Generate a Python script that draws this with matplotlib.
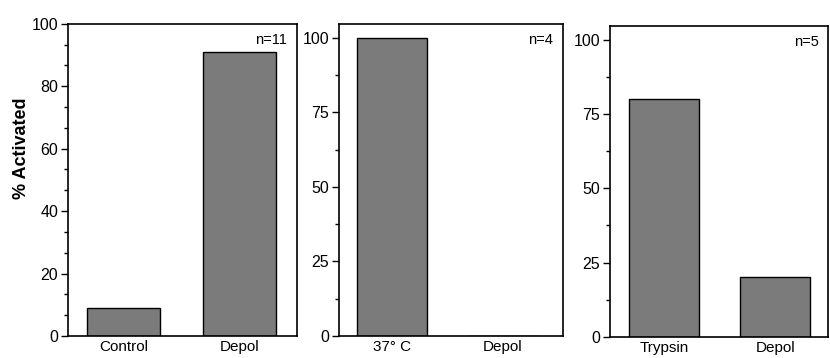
import matplotlib
matplotlib.use("Agg")
import matplotlib.pyplot as plt
from matplotlib.ticker import MultipleLocator

plt.rcParams['font.family'] = ['Liberation Sans', 'DejaVu Sans']

# data
labels_a = ["Control", "Depol"]
values_a = [9, 91]
n_a = "n=11"

labels_b = ["37° C", "Depol"]
values_b = [100, 0]
n_b = "n=4"

labels_c = ["Trypsin", "Depol"]
values_c = [80, 20]
n_c = "n=5"

bar_color = "#7b7b7b"

fig = plt.figure(figsize=(8.3, 3.58), dpi=100)

# axes placed by hand to follow the reference
ax1 = fig.add_axes([0.082, 0.0615, 0.276, 0.872])
ax2 = fig.add_axes([0.408, 0.0615, 0.270, 0.872])
ax3 = fig.add_axes([0.735, 0.0587, 0.263, 0.870])

panels = [
    (ax1, labels_a, values_a, n_a, (0, 100), 20, 20 / 3, (-0.48, 1.5)),
    (ax2, labels_b, values_b, n_b, (0, 104.7), 25, 12.5, (-0.48, 1.54)),
    (ax3, labels_c, values_c, n_c, (0, 104.7), 25, 12.5, (-0.49, 1.48)),
]

for ax, labs, vals, ntxt, ylim, major, minor, xlim in panels:
    ax.bar(range(len(labs)), vals, width=0.63, color=bar_color,
           edgecolor="black", linewidth=1.0)
    ax.set_xticks(range(len(labs)))
    ax.set_xticklabels(labs, fontsize=11)
    ax.set_xlim(*xlim)
    ax.set_ylim(*ylim)
    ax.yaxis.set_major_locator(MultipleLocator(major))
    ax.yaxis.set_minor_locator(MultipleLocator(minor))
    ax.tick_params(axis='y', which='major', length=5, width=1, labelsize=11.5, pad=2)
    ax.tick_params(axis='y', which='minor', length=3, width=1)
    ax.tick_params(axis='x', length=0, pad=3)
    for s in ax.spines.values():
        s.set_linewidth(1.2)
    ax.text(0.955, 0.97, ntxt, transform=ax.transAxes, ha='right', va='top', fontsize=10.5)

# y title sits a bit above the middle in the original
fig.text(22 / 830, 1 - 148 / 358, "% Activated", rotation=90, ha='center', va='center',
         fontsize=13, fontweight='heavy')

plt.savefig("out.png", dpi=100)
